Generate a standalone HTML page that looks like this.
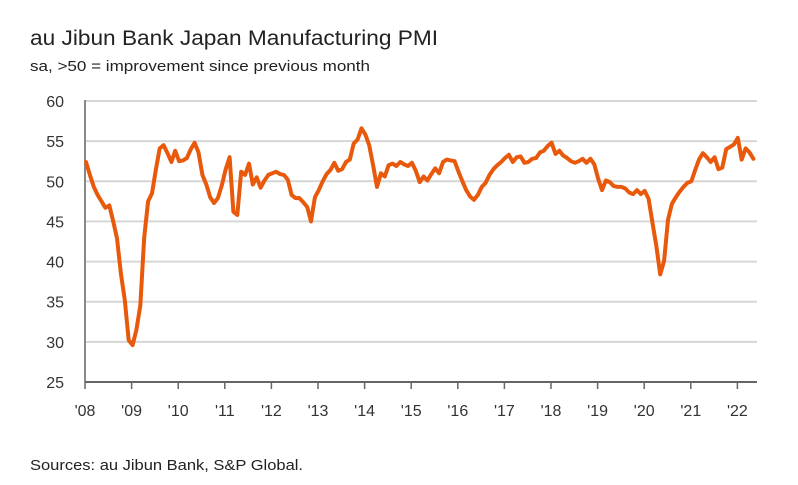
<!DOCTYPE html>
<html><head><meta charset="utf-8"><style>
body{margin:0;background:#fff;}
svg{display:block;font-family:"Liberation Sans",sans-serif;}
</style></head><body>
<svg id="chart" width="798" height="485" viewBox="0 0 798 485">
<text x="30" y="45" font-size="21" fill="#222" textLength="408" lengthAdjust="spacingAndGlyphs">au Jibun Bank Japan Manufacturing PMI</text>
<text x="30" y="71" font-size="15" fill="#222" textLength="340" lengthAdjust="spacingAndGlyphs">sa, &gt;50 = improvement since previous month</text>
<g id="grid"></g>
<g id="yax"></g>
<g id="xax"></g>
<path id="line" fill="none" stroke="#e8590c" stroke-width="4" stroke-linejoin="round" stroke-linecap="round"></path>
<text x="30" y="470" font-size="15" fill="#222" textLength="273" lengthAdjust="spacingAndGlyphs">Sources: au Jibun Bank, S&amp;P Global.</text>
</svg>
<script>
const yTicks=[25,30,35,40,45,50,55,60];
const yearLabels=["'08","'09","'10","'11","'12","'13","'14","'15","'16","'17","'18","'19","'20","'21","'22"];
const pmi=[52.4,50.8,49.3,48.3,47.5,46.7,47.0,45.0,42.9,38.5,35.2,30.2,29.6,31.5,34.5,43.0,47.5,48.5,51.4,54.1,54.5,53.5,52.4,53.8,52.5,52.6,52.9,54.0,54.8,53.6,50.8,49.6,48.0,47.3,47.9,49.5,51.5,53.0,46.2,45.8,51.2,50.8,52.2,49.6,50.5,49.2,50.1,50.8,51.0,51.2,50.9,50.8,50.2,48.3,47.9,47.9,47.4,46.8,45.0,48.0,48.9,50.0,50.9,51.4,52.3,51.3,51.5,52.4,52.7,54.7,55.2,56.6,55.8,54.5,52.0,49.3,51.0,50.6,52.0,52.2,51.9,52.4,52.1,51.9,52.3,51.3,49.9,50.6,50.1,50.9,51.6,51.0,52.4,52.7,52.6,52.5,51.2,50.0,48.9,48.1,47.7,48.3,49.3,49.8,50.8,51.5,52.0,52.4,52.9,53.3,52.4,53.0,53.1,52.3,52.4,52.8,52.9,53.6,53.8,54.4,54.8,53.4,53.8,53.2,52.9,52.5,52.3,52.5,52.8,52.3,52.8,52.1,50.3,48.9,50.1,49.9,49.4,49.3,49.3,49.1,48.6,48.4,48.9,48.4,48.8,47.8,44.8,41.9,38.4,40.1,45.2,47.2,48.0,48.7,49.3,49.8,50.0,51.4,52.7,53.5,53.0,52.4,53.0,51.5,51.7,54.0,54.3,54.6,55.4,52.7,54.1,53.6,52.8];
const NS="http://www.w3.org/2000/svg";
const X0=85,X1=757,Y60=101,Y25=382;
const y=v=>Y60+(60-v)*(Y25-Y60)/35;
const xm=m=>86+m*3.88;
const xYear=i=>85+i*46.6;
function mk(tag,attrs,parent,txt){const e=document.createElementNS(NS,tag);for(const k in attrs)e.setAttribute(k,attrs[k]);if(txt!==undefined)e.textContent=txt;parent.appendChild(e);return e;}
const grid=document.getElementById('grid'),yax=document.getElementById('yax'),xax=document.getElementById('xax');
yTicks.forEach(t=>{
  if(t>25){const g=mk('line',{x1:X0,x2:X1,y1:y(t),y2:y(t),stroke:'#d6d6d6','stroke-width':2},grid);
  
  }
  const l=mk('text',{x:64,y:y(t)+6,'font-size':16,'text-anchor':'end',fill:'#333'},yax,String(t));
  
  
});
mk('line',{x1:X0,x2:X0,y1:Y60-1,y2:Y25,stroke:'#888','stroke-width':2},yax);
mk('line',{x1:X0,x2:X1,y1:Y25,y2:Y25,stroke:'#666','stroke-width':2},xax);
yearLabels.forEach((lab,i)=>{
  const x=xYear(i);
  mk('line',{x1:x,x2:x,y1:Y25,y2:Y25+7,stroke:'#666','stroke-width':1.5},xax);
  const t=mk('text',{x:x,y:416,'font-size':16,'text-anchor':'middle',fill:'#333'},xax,lab);
  
  
});
document.getElementById('line').setAttribute('d',pmi.map((v,i)=>(i?'L':'M')+xm(i).toFixed(1)+','+y(v).toFixed(1)).join(''));
</script>
</body></html>
